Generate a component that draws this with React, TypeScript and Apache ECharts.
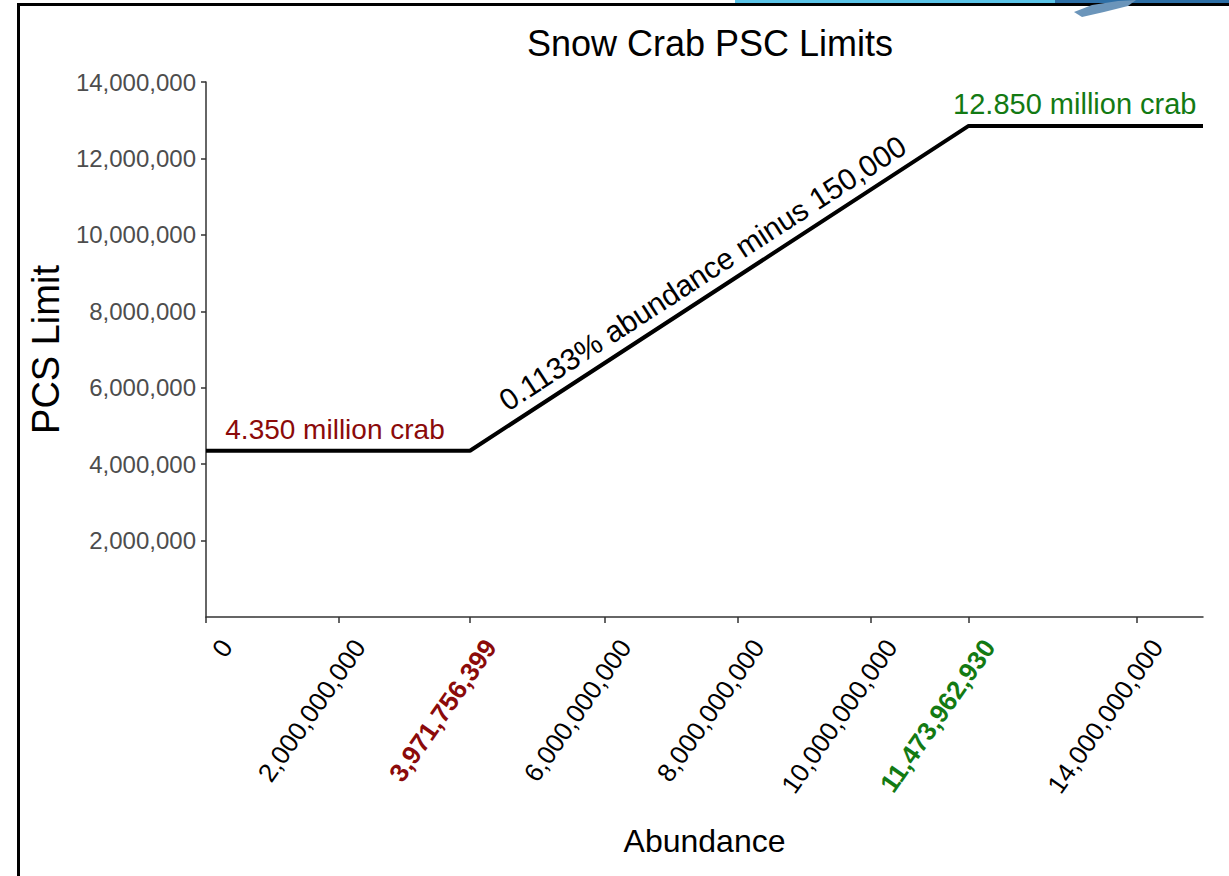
import React, { useEffect, useRef } from "react";
import * as echarts from "echarts";

// Policy curve breakpoints: [abundance, PSC limit]
const abundance = [0, 3971756399, 11473962930, 15000000000];
const pscLimit = [4350000, 4350000, 12850000, 12850000];

// Axis tick values
const xTicks = [0, 2000000000, 3971756399, 6000000000, 8000000000, 10000000000, 11473962930, 14000000000];
const yTicks = [2000000, 4000000, 6000000, 8000000, 10000000, 12000000, 14000000];
const lowerThreshold = 3971756399;
const upperThreshold = 11473962930;

// Annotation texts and their anchor in data coordinates
const annoText = ["4.350 million crab", "0.1133% abundance minus 150,000", "12.850 million crab"];
const annoX = [290000000, 7470000000, 11240000000];
const annoY = [4900000, 9000000, 13430000];

const RED = "#8b0a0a";
const GREEN = "#137a13";
const FONT = "'Liberation Sans', Arial, sans-serif";

export default function App() {
  const ref = useRef<HTMLDivElement>(null);
  useEffect(() => {
    if (!ref.current) return;
    const chart = echarts.init(ref.current, null, { renderer: "svg" });
    const fmt = (v: number) => Math.round(v).toLocaleString("en-US");
    const annoStyles = [
      { color: RED, position: "right", rotate: 0, size: 28 },
      { color: "#000", position: "inside", rotate: 33, size: 30 },
      { color: GREEN, position: "right", rotate: 0, size: 29 },
    ];
    chart.setOption({
      animation: false,
      textStyle: { fontFamily: FONT },
      title: {
        text: "Snow Crab PSC Limits",
        left: 705,
        textAlign: "center",
        top: 20,
        textStyle: { fontSize: 36, fontWeight: "normal", color: "#000", fontFamily: FONT },
      },
      grid: { left: 206, right: 26, top: 82, bottom: 259, outerBoundsMode: "none" },
      xAxis: {
        type: "value",
        min: 0,
        max: 15000000000,
        splitLine: { show: false },
        axisLine: { show: true, onZero: false, lineStyle: { color: "#333", width: 1.5 } },
        axisTick: { show: true, customValues: xTicks, length: 6, lineStyle: { color: "#333", width: 1.5 } },
        axisLabel: {
          customValues: xTicks,
          rotate: 55,
          margin: 11,
          verticalAlign: "top",
          lineHeight: 50,
          fontSize: 26,
          color: "#000",
          fontFamily: FONT,
          formatter: (v: number) => {
            const s = fmt(v);
            if (Math.abs(v - lowerThreshold) < 1) return "{r|" + s + "}";
            if (Math.abs(v - upperThreshold) < 1) return "{g|" + s + "}";
            return s;
          },
          rich: {
            r: { color: RED, fontWeight: "bold", fontSize: 26, lineHeight: 50, fontFamily: FONT },
            g: { color: GREEN, fontWeight: "bold", fontSize: 26, lineHeight: 50, fontFamily: FONT },
          },
        },
        name: "Abundance",
        nameLocation: "middle",
        nameGap: 208,
        nameTextStyle: { fontSize: 32, color: "#000", fontFamily: FONT },
      },
      yAxis: {
        type: "value",
        min: 0,
        max: 14000000,
        interval: 2000000,
        splitLine: { show: false },
        axisLine: { show: true, onZero: false, lineStyle: { color: "#333", width: 1.5 } },
        axisTick: { show: true, customValues: yTicks, length: 5, lineStyle: { color: "#333", width: 1.5 } },
        axisLabel: {
          customValues: yTicks,
          fontSize: 24,
          color: "#4d4d4d",
          margin: 10,
          fontFamily: FONT,
          formatter: (v: number) => fmt(v),
        },
        name: "PCS Limit",
        nameLocation: "middle",
        nameRotate: 90,
        nameGap: 132,
        nameTextStyle: { fontSize: 38, color: "#000", fontFamily: FONT },
      },
      series: [
        {
          type: "line",
          data: abundance.map((a, i) => [a, pscLimit[i]]),
          showSymbol: false,
          symbol: "none",
          lineStyle: { color: "#000", width: 4 },
          silent: true,
          z: 3,
        },
        {
          type: "scatter",
          symbolSize: 0,
          silent: true,
          itemStyle: { opacity: 1 },
          emphasis: { disabled: true },
          data: annoText.map((t, i) => ({
            value: [annoX[i], annoY[i]],
            label: {
              show: true,
              formatter: t,
              position: annoStyles[i].position,
              distance: 0,
              rotate: annoStyles[i].rotate,
              color: annoStyles[i].color,
              opacity: 1,
              fontSize: annoStyles[i].size,
              fontFamily: FONT,
            },
          })),
        },
      ],
      graphic: [
        { type: "rect", shape: { x: 735, y: 0, width: 320, height: 3 }, style: { fill: "#5bc4e8" }, silent: true },
        { type: "rect", shape: { x: 1055, y: 0, width: 174, height: 3 }, style: { fill: "#2d6fa6" }, silent: true },
        { type: "rect", shape: { x: 17, y: 3, width: 3, height: 873 }, style: { fill: "#000" }, silent: true },
        { type: "rect", shape: { x: 17, y: 3, width: 1212, height: 3 }, style: { fill: "#000" }, silent: true },
        {
          type: "polygon",
          shape: { points: [[1074, 12], [1092, 5], [1118, 1], [1136, 0], [1128, 6], [1104, 12], [1082, 17]] },
          style: { fill: "#6b95ba" },
          silent: true,
        },
      ],
    });
    return () => chart.dispose();
  }, []);
  return (
    <div
      ref={ref}
      style={{ position: "absolute", left: 0, top: 0, width: 1229, height: 876, background: "#fff" }}
    />
  );
}
